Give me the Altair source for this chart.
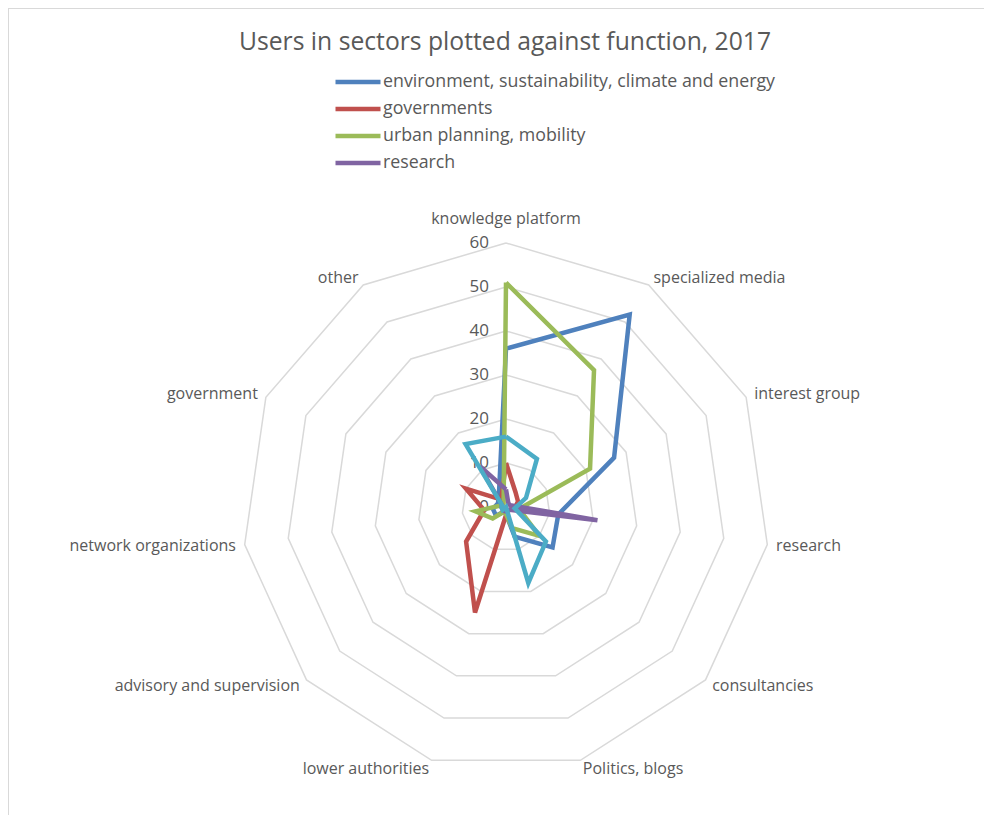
import altair as alt
import pandas as pd

categories = ["knowledge platform", "specialized media", "interest group", "research",
              "consultancies", "Politics, blogs", "lower authorities",
              "advisory and supervision", "network organizations", "government", "other"]
series_names = ["environment, sustainability, climate and energy", "governments",
                "urban planning, mobility", "research", "other users"]
env = [36, 52, 27, 12, 14, 7, 1, 3, 3, 2, 3]
gov = [10, 4, 3, 2, 1, 1, 25, 12, 5, 10, 2]
urban = [51, 37, 21, 3, 10, 5, 1, 4, 7, 1, 1]
research = [4, 1, 1, 21, 1, 1, 1, 1, 1, 1, 11]
other_users = [16, 13, 5, 2, 12, 18, 0, 1, 1, 1, 17]
series_values = [env, gov, urban, research, other_users]
colors = ["#4F81BD", "#C0504D", "#9BBB59", "#8064A2", "#4BACC6"]
ring_levels = [10, 20, 30, 40, 50, 60]
tick_levels = [0, 10, 20, 30, 40, 50, 60]

N = len(categories)
FONT = "Open Sans"
GREY = "#595959"

rows = []
for name, vals in zip(series_names, series_values):
    for k in range(N + 1):
        rows.append({"series": name, "k": k, "value": vals[k % N]})
df = pd.DataFrame(rows)

ring_rows = [{"level": L, "k": k} for L in ring_levels for k in range(N + 1)]
rings_df = pd.DataFrame(ring_rows)
ticks_df = pd.DataFrame({"level": tick_levels})
cat_df = pd.DataFrame({"cat": categories, "k": list(range(N))})

W, H = 976, 807
PX = 4.4
CX, CY = 498, 499
xscale = alt.Scale(domain=[-CX / PX, (W - CX) / PX], nice=False, zero=False)
yscale = alt.Scale(domain=[-(H - CY) / PX, CY / PX], nice=False, zero=False)

ang = f"datum.k*2*PI/{N}"

rings = alt.Chart(rings_df).transform_calculate(
    x=f"datum.level*sin({ang})", y=f"datum.level*cos({ang})"
).mark_line(color="#d9d9d9", strokeWidth=1.5).encode(
    x=alt.X("x:Q", scale=xscale, axis=None),
    y=alt.Y("y:Q", scale=yscale, axis=None),
    detail="level:O",
    order="k:Q",
)

ticks = alt.Chart(ticks_df).transform_calculate(x="0", y="datum.level").mark_text(
    align="right", baseline="middle", dx=-17, font=FONT, fontSize=17, color=GREY
).encode(
    x=alt.X("x:Q", scale=xscale, axis=None),
    y=alt.Y("y:Q", scale=yscale, axis=None),
    text="level:Q",
)

def cat_layer(filt, r, align):
    return alt.Chart(cat_df).transform_filter(filt).transform_calculate(
        x=f"{r}*sin({ang})", y=f"{r}*cos({ang})"
    ).mark_text(align=align, baseline="middle", font=FONT, fontSize=16, color=GREY).encode(
        x=alt.X("x:Q", scale=xscale, axis=None),
        y=alt.Y("y:Q", scale=yscale, axis=None),
        text="cat:N",
    )

cat_top = cat_layer("datum.k == 0", 65.5, "center")
cat_right = cat_layer(f"datum.k > 0 && datum.k <= {N // 2}", 62, "left")
cat_left = cat_layer(f"datum.k > {N // 2}", 62, "right")

color_scale = alt.Scale(domain=series_names, range=colors)
legend = alt.Legend(
    values=series_names[:4], title=None, orient="none", legendX=323, legendY=64,
    symbolType="stroke", symbolSize=2025, symbolStrokeWidth=4.5, clipHeight=20,
    rowPadding=7, labelOffset=0, symbolOffset=2, padding=0, labelFont=FONT,
    labelFontSize=17.8, labelColor=GREY, labelLimit=700,
)

line_layers = []
for name in series_names:
    line_layers.append(
        alt.Chart(df).transform_filter(alt.datum.series == name).transform_calculate(
            x=f"datum.value*sin({ang})", y=f"datum.value*cos({ang})"
        ).mark_line(strokeWidth=4.5).encode(
            x=alt.X("x:Q", scale=xscale, axis=None),
            y=alt.Y("y:Q", scale=yscale, axis=None),
            color=alt.Color("series:N", scale=color_scale, legend=legend),
            order="k:Q",
        )
    )

border_top = alt.Chart(ticks_df).mark_rule(color="#d9d9d9", strokeWidth=1.5).encode(
    x=alt.value(0), x2=alt.value(W), y=alt.value(0))
border_left = alt.Chart(ticks_df).mark_rule(color="#d9d9d9", strokeWidth=1.5).encode(
    y=alt.value(0), y2=alt.value(H), x=alt.value(0))

chart = alt.layer(
    border_top, border_left, rings, ticks, cat_top, cat_right, cat_left, *line_layers
).properties(
    width=W, height=H, padding=0,
    autosize=alt.AutoSizeParams(type="none"),
    title=alt.Title("Users in sectors plotted against function, 2017", font=FONT,
                    fontSize=24.7, fontWeight="normal", color=GREY, anchor="middle",
                    baseline="middle", offset=-60, dx=9),
).configure_view(stroke=None)

chart.save("out.html", embed_options={"renderer": "svg", "actions": False})
